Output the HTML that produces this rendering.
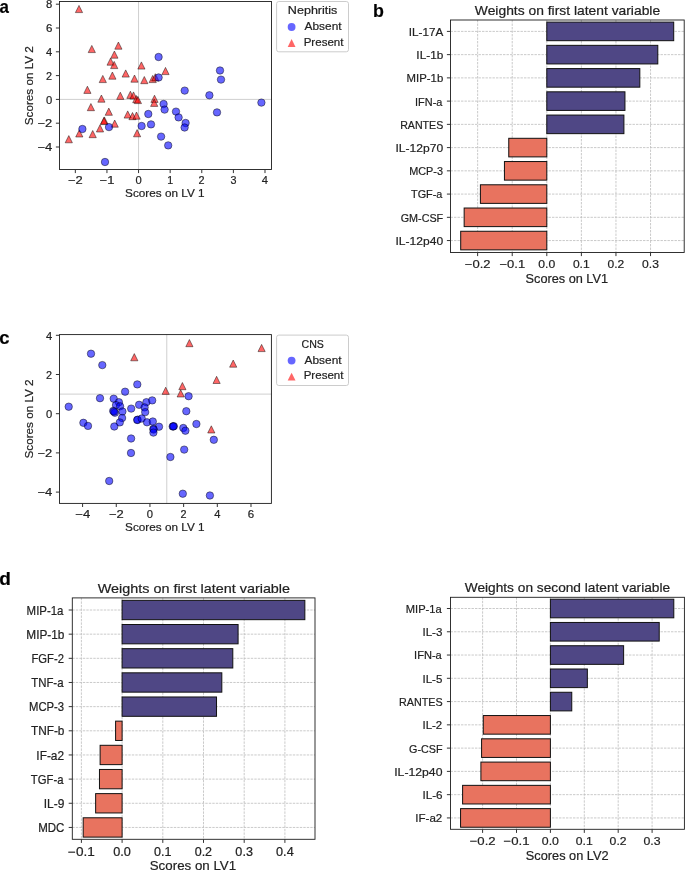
<!DOCTYPE html>
<html><head><meta charset="utf-8"><style>html,body{margin:0;padding:0;background:#fff;}svg{display:block;will-change:transform;}text{font-family:"Liberation Sans",sans-serif;stroke:#222;stroke-width:0.2px;}</style></head><body>
<svg width="685" height="871" viewBox="0 0 685 871" font-family="Liberation Sans, sans-serif">
<rect width="685" height="871" fill="#fff"/>
<text transform="translate(-0.51,12.60) scale(0.9390,1)" font-size="18.00" fill="#000" font-weight="bold">a</text>
<text transform="translate(373.04,17.30) scale(0.9901,1)" font-size="18.00" fill="#000" font-weight="bold">b</text>
<text transform="translate(-0.74,344.00) scale(1.0256,1)" font-size="18.00" fill="#000" font-weight="bold">c</text>
<text transform="translate(-0.76,585.30) scale(1.0561,1)" font-size="18.00" fill="#000" font-weight="bold">d</text>
<line x1="138.55" y1="1.5" x2="138.55" y2="169.5" stroke="#cfcfcf" stroke-width="1"/>
<line x1="59.5" y1="99.40" x2="271.5" y2="99.40" stroke="#cfcfcf" stroke-width="1"/>
<path d="M79.00,5.40L75.40,12.60L82.60,12.60Z" fill="#ff0000" fill-opacity="0.6" stroke="#000" stroke-opacity="0.6" stroke-width="0.75" stroke-linejoin="miter"/>
<path d="M91.80,45.40L88.20,52.60L95.40,52.60Z" fill="#ff0000" fill-opacity="0.6" stroke="#000" stroke-opacity="0.6" stroke-width="0.75" stroke-linejoin="miter"/>
<path d="M118.40,42.00L114.80,49.20L122.00,49.20Z" fill="#ff0000" fill-opacity="0.6" stroke="#000" stroke-opacity="0.6" stroke-width="0.75" stroke-linejoin="miter"/>
<path d="M114.40,51.00L110.80,58.20L118.00,58.20Z" fill="#ff0000" fill-opacity="0.6" stroke="#000" stroke-opacity="0.6" stroke-width="0.75" stroke-linejoin="miter"/>
<path d="M110.60,58.00L107.00,65.20L114.20,65.20Z" fill="#ff0000" fill-opacity="0.6" stroke="#000" stroke-opacity="0.6" stroke-width="0.75" stroke-linejoin="miter"/>
<path d="M114.20,61.40L110.60,68.60L117.80,68.60Z" fill="#ff0000" fill-opacity="0.6" stroke="#000" stroke-opacity="0.6" stroke-width="0.75" stroke-linejoin="miter"/>
<path d="M141.40,61.90L137.80,69.10L145.00,69.10Z" fill="#ff0000" fill-opacity="0.6" stroke="#000" stroke-opacity="0.6" stroke-width="0.75" stroke-linejoin="miter"/>
<path d="M165.50,67.40L161.90,74.60L169.10,74.60Z" fill="#ff0000" fill-opacity="0.6" stroke="#000" stroke-opacity="0.6" stroke-width="0.75" stroke-linejoin="miter"/>
<path d="M125.70,69.90L122.10,77.10L129.30,77.10Z" fill="#ff0000" fill-opacity="0.6" stroke="#000" stroke-opacity="0.6" stroke-width="0.75" stroke-linejoin="miter"/>
<path d="M112.40,72.00L108.80,79.20L116.00,79.20Z" fill="#ff0000" fill-opacity="0.6" stroke="#000" stroke-opacity="0.6" stroke-width="0.75" stroke-linejoin="miter"/>
<path d="M102.80,75.40L99.20,82.60L106.40,82.60Z" fill="#ff0000" fill-opacity="0.6" stroke="#000" stroke-opacity="0.6" stroke-width="0.75" stroke-linejoin="miter"/>
<path d="M134.50,75.00L130.90,82.20L138.10,82.20Z" fill="#ff0000" fill-opacity="0.6" stroke="#000" stroke-opacity="0.6" stroke-width="0.75" stroke-linejoin="miter"/>
<path d="M144.30,76.50L140.70,83.70L147.90,83.70Z" fill="#ff0000" fill-opacity="0.6" stroke="#000" stroke-opacity="0.6" stroke-width="0.75" stroke-linejoin="miter"/>
<path d="M152.70,75.40L149.10,82.60L156.30,82.60Z" fill="#ff0000" fill-opacity="0.6" stroke="#000" stroke-opacity="0.6" stroke-width="0.75" stroke-linejoin="miter"/>
<path d="M155.30,73.70L151.70,80.90L158.90,80.90Z" fill="#ff0000" fill-opacity="0.6" stroke="#000" stroke-opacity="0.6" stroke-width="0.75" stroke-linejoin="miter"/>
<path d="M87.40,86.20L83.80,93.40L91.00,93.40Z" fill="#ff0000" fill-opacity="0.6" stroke="#000" stroke-opacity="0.6" stroke-width="0.75" stroke-linejoin="miter"/>
<path d="M101.40,95.00L97.80,102.20L105.00,102.20Z" fill="#ff0000" fill-opacity="0.6" stroke="#000" stroke-opacity="0.6" stroke-width="0.75" stroke-linejoin="miter"/>
<path d="M120.30,92.20L116.70,99.40L123.90,99.40Z" fill="#ff0000" fill-opacity="0.6" stroke="#000" stroke-opacity="0.6" stroke-width="0.75" stroke-linejoin="miter"/>
<path d="M130.40,91.20L126.80,98.40L134.00,98.40Z" fill="#ff0000" fill-opacity="0.6" stroke="#000" stroke-opacity="0.6" stroke-width="0.75" stroke-linejoin="miter"/>
<path d="M133.50,91.90L129.90,99.10L137.10,99.10Z" fill="#ff0000" fill-opacity="0.6" stroke="#000" stroke-opacity="0.6" stroke-width="0.75" stroke-linejoin="miter"/>
<path d="M136.30,95.50L132.70,102.70L139.90,102.70Z" fill="#ff0000" fill-opacity="0.6" stroke="#000" stroke-opacity="0.6" stroke-width="0.75" stroke-linejoin="miter"/>
<path d="M137.90,96.40L134.30,103.60L141.50,103.60Z" fill="#ff0000" fill-opacity="0.6" stroke="#000" stroke-opacity="0.6" stroke-width="0.75" stroke-linejoin="miter"/>
<path d="M154.50,95.20L150.90,102.40L158.10,102.40Z" fill="#ff0000" fill-opacity="0.6" stroke="#000" stroke-opacity="0.6" stroke-width="0.75" stroke-linejoin="miter"/>
<path d="M154.20,99.20L150.60,106.40L157.80,106.40Z" fill="#ff0000" fill-opacity="0.6" stroke="#000" stroke-opacity="0.6" stroke-width="0.75" stroke-linejoin="miter"/>
<path d="M90.90,103.50L87.30,110.70L94.50,110.70Z" fill="#ff0000" fill-opacity="0.6" stroke="#000" stroke-opacity="0.6" stroke-width="0.75" stroke-linejoin="miter"/>
<path d="M108.80,108.10L105.20,115.30L112.40,115.30Z" fill="#ff0000" fill-opacity="0.6" stroke="#000" stroke-opacity="0.6" stroke-width="0.75" stroke-linejoin="miter"/>
<path d="M127.70,110.90L124.10,118.10L131.30,118.10Z" fill="#ff0000" fill-opacity="0.6" stroke="#000" stroke-opacity="0.6" stroke-width="0.75" stroke-linejoin="miter"/>
<path d="M132.50,112.50L128.90,119.70L136.10,119.70Z" fill="#ff0000" fill-opacity="0.6" stroke="#000" stroke-opacity="0.6" stroke-width="0.75" stroke-linejoin="miter"/>
<path d="M136.50,112.00L132.90,119.20L140.10,119.20Z" fill="#ff0000" fill-opacity="0.6" stroke="#000" stroke-opacity="0.6" stroke-width="0.75" stroke-linejoin="miter"/>
<path d="M104.40,116.90L100.80,124.10L108.00,124.10Z" fill="#ff0000" fill-opacity="0.6" stroke="#000" stroke-opacity="0.6" stroke-width="0.75" stroke-linejoin="miter"/>
<path d="M103.90,117.40L100.30,124.60L107.50,124.60Z" fill="#ff0000" fill-opacity="0.6" stroke="#000" stroke-opacity="0.6" stroke-width="0.75" stroke-linejoin="miter"/>
<path d="M114.70,120.00L111.10,127.20L118.30,127.20Z" fill="#ff0000" fill-opacity="0.6" stroke="#000" stroke-opacity="0.6" stroke-width="0.75" stroke-linejoin="miter"/>
<path d="M100.00,124.80L96.40,132.00L103.60,132.00Z" fill="#ff0000" fill-opacity="0.6" stroke="#000" stroke-opacity="0.6" stroke-width="0.75" stroke-linejoin="miter"/>
<path d="M79.30,129.80L75.70,137.00L82.90,137.00Z" fill="#ff0000" fill-opacity="0.6" stroke="#000" stroke-opacity="0.6" stroke-width="0.75" stroke-linejoin="miter"/>
<path d="M92.70,130.50L89.10,137.70L96.30,137.70Z" fill="#ff0000" fill-opacity="0.6" stroke="#000" stroke-opacity="0.6" stroke-width="0.75" stroke-linejoin="miter"/>
<path d="M68.80,135.60L65.20,142.80L72.40,142.80Z" fill="#ff0000" fill-opacity="0.6" stroke="#000" stroke-opacity="0.6" stroke-width="0.75" stroke-linejoin="miter"/>
<path d="M137.10,129.60L133.50,136.80L140.70,136.80Z" fill="#ff0000" fill-opacity="0.6" stroke="#000" stroke-opacity="0.6" stroke-width="0.75" stroke-linejoin="miter"/>
<circle cx="158.60" cy="57.00" r="3.72" fill="#0000ff" fill-opacity="0.6" stroke="#000" stroke-opacity="0.6" stroke-width="0.75"/>
<circle cx="158.60" cy="77.50" r="3.72" fill="#0000ff" fill-opacity="0.6" stroke="#000" stroke-opacity="0.6" stroke-width="0.75"/>
<circle cx="184.70" cy="90.60" r="3.72" fill="#0000ff" fill-opacity="0.6" stroke="#000" stroke-opacity="0.6" stroke-width="0.75"/>
<circle cx="220.00" cy="70.50" r="3.72" fill="#0000ff" fill-opacity="0.6" stroke="#000" stroke-opacity="0.6" stroke-width="0.75"/>
<circle cx="221.00" cy="79.60" r="3.72" fill="#0000ff" fill-opacity="0.6" stroke="#000" stroke-opacity="0.6" stroke-width="0.75"/>
<circle cx="209.40" cy="95.30" r="3.72" fill="#0000ff" fill-opacity="0.6" stroke="#000" stroke-opacity="0.6" stroke-width="0.75"/>
<circle cx="261.40" cy="102.60" r="3.72" fill="#0000ff" fill-opacity="0.6" stroke="#000" stroke-opacity="0.6" stroke-width="0.75"/>
<circle cx="163.60" cy="104.00" r="3.72" fill="#0000ff" fill-opacity="0.6" stroke="#000" stroke-opacity="0.6" stroke-width="0.75"/>
<circle cx="164.60" cy="109.60" r="3.72" fill="#0000ff" fill-opacity="0.6" stroke="#000" stroke-opacity="0.6" stroke-width="0.75"/>
<circle cx="176.00" cy="111.60" r="3.72" fill="#0000ff" fill-opacity="0.6" stroke="#000" stroke-opacity="0.6" stroke-width="0.75"/>
<circle cx="178.60" cy="117.40" r="3.72" fill="#0000ff" fill-opacity="0.6" stroke="#000" stroke-opacity="0.6" stroke-width="0.75"/>
<circle cx="148.30" cy="114.00" r="3.72" fill="#0000ff" fill-opacity="0.6" stroke="#000" stroke-opacity="0.6" stroke-width="0.75"/>
<circle cx="217.00" cy="112.40" r="3.72" fill="#0000ff" fill-opacity="0.6" stroke="#000" stroke-opacity="0.6" stroke-width="0.75"/>
<circle cx="185.60" cy="123.00" r="3.72" fill="#0000ff" fill-opacity="0.6" stroke="#000" stroke-opacity="0.6" stroke-width="0.75"/>
<circle cx="184.60" cy="127.50" r="3.72" fill="#0000ff" fill-opacity="0.6" stroke="#000" stroke-opacity="0.6" stroke-width="0.75"/>
<circle cx="151.00" cy="124.40" r="3.72" fill="#0000ff" fill-opacity="0.6" stroke="#000" stroke-opacity="0.6" stroke-width="0.75"/>
<circle cx="141.60" cy="126.00" r="3.72" fill="#0000ff" fill-opacity="0.6" stroke="#000" stroke-opacity="0.6" stroke-width="0.75"/>
<circle cx="109.00" cy="127.10" r="3.72" fill="#0000ff" fill-opacity="0.6" stroke="#000" stroke-opacity="0.6" stroke-width="0.75"/>
<circle cx="82.40" cy="129.00" r="3.72" fill="#0000ff" fill-opacity="0.6" stroke="#000" stroke-opacity="0.6" stroke-width="0.75"/>
<circle cx="161.10" cy="136.60" r="3.72" fill="#0000ff" fill-opacity="0.6" stroke="#000" stroke-opacity="0.6" stroke-width="0.75"/>
<circle cx="168.20" cy="145.40" r="3.72" fill="#0000ff" fill-opacity="0.6" stroke="#000" stroke-opacity="0.6" stroke-width="0.75"/>
<circle cx="105.00" cy="162.00" r="3.72" fill="#0000ff" fill-opacity="0.6" stroke="#000" stroke-opacity="0.6" stroke-width="0.75"/>
<rect x="59.50" y="1.50" width="212.00" height="168.00" fill="none" stroke="#1c1c1c" stroke-width="0.9"/>
<line x1="75.33" y1="169.50" x2="75.33" y2="173.10" stroke="#333" stroke-width="1"/>
<text transform="translate(67.98,184.00) scale(1.1630,1)" font-size="11.13" fill="#222222">−2</text>
<line x1="106.94" y1="169.50" x2="106.94" y2="173.10" stroke="#333" stroke-width="1"/>
<text transform="translate(99.59,184.00) scale(1.1671,1)" font-size="11.13" fill="#222222">−1</text>
<line x1="138.55" y1="169.50" x2="138.55" y2="173.10" stroke="#333" stroke-width="1"/>
<text transform="translate(135.42,184.00) scale(1.0072,1)" font-size="11.13" fill="#222222">0</text>
<line x1="170.16" y1="169.50" x2="170.16" y2="173.10" stroke="#333" stroke-width="1"/>
<text transform="translate(167.15,184.00) scale(0.9579,1)" font-size="11.13" fill="#222222">1</text>
<line x1="201.77" y1="169.50" x2="201.77" y2="173.10" stroke="#333" stroke-width="1"/>
<text transform="translate(198.62,184.00) scale(0.9733,1)" font-size="11.13" fill="#222222">2</text>
<line x1="233.38" y1="169.50" x2="233.38" y2="173.10" stroke="#333" stroke-width="1"/>
<text transform="translate(230.40,184.00) scale(0.9674,1)" font-size="11.13" fill="#222222">3</text>
<line x1="264.99" y1="169.50" x2="264.99" y2="173.10" stroke="#333" stroke-width="1"/>
<text transform="translate(261.87,184.00) scale(1.0042,1)" font-size="11.13" fill="#222222">4</text>
<line x1="55.90" y1="147.00" x2="59.50" y2="147.00" stroke="#333" stroke-width="1"/>
<text transform="translate(37.43,151.24) scale(1.1765,1)" font-size="11.13" fill="#222222">−4</text>
<line x1="55.90" y1="123.20" x2="59.50" y2="123.20" stroke="#333" stroke-width="1"/>
<text transform="translate(37.44,127.44) scale(1.1630,1)" font-size="11.13" fill="#222222">−2</text>
<line x1="55.90" y1="99.40" x2="59.50" y2="99.40" stroke="#333" stroke-width="1"/>
<text transform="translate(46.10,103.64) scale(1.0072,1)" font-size="11.13" fill="#222222">0</text>
<line x1="55.90" y1="75.60" x2="59.50" y2="75.60" stroke="#333" stroke-width="1"/>
<text transform="translate(46.08,79.84) scale(0.9733,1)" font-size="11.13" fill="#222222">2</text>
<line x1="55.90" y1="51.80" x2="59.50" y2="51.80" stroke="#333" stroke-width="1"/>
<text transform="translate(46.11,56.04) scale(1.0042,1)" font-size="11.13" fill="#222222">4</text>
<line x1="55.90" y1="28.00" x2="59.50" y2="28.00" stroke="#333" stroke-width="1"/>
<text transform="translate(46.02,32.24) scale(1.0347,1)" font-size="11.13" fill="#222222">6</text>
<line x1="55.90" y1="4.20" x2="59.50" y2="4.20" stroke="#333" stroke-width="1"/>
<text transform="translate(46.09,8.44) scale(1.0132,1)" font-size="11.13" fill="#222222">8</text>
<text transform="translate(125.10,196.90) scale(1.0184,1)" font-size="11.55" fill="#222222">Scores on LV 1</text>
<text transform="translate(32.80,0) rotate(-90) translate(-125.22,0) scale(1.0177,1)" font-size="11.50" fill="#222222">Scores on LV 2</text>
<rect x="276.6" y="1.5" width="71.89999999999998" height="50.3" rx="2.2" fill="#fff" fill-opacity="0.8" stroke="#cccccc" stroke-width="1"/>
<text transform="translate(287.86,14.20) scale(1.1121,1)" font-size="11.30" fill="#222222">Nephritis</text>
<circle cx="291.6" cy="27" r="3.9" fill="#0000ff" fill-opacity="0.6"/>
<path d="M291.6,39.1L287.70000000000005,46.9L295.5,46.9Z" fill="#ff0000" fill-opacity="0.6"/>
<text transform="translate(304.57,29.90) scale(1.0591,1)" font-size="11.23" fill="#222222">Absent</text>
<text transform="translate(303.64,45.50) scale(1.0304,1)" font-size="11.23" fill="#222222">Present</text>
<line x1="166.79" y1="334.6" x2="166.79" y2="503.4" stroke="#cfcfcf" stroke-width="1"/>
<line x1="59.5" y1="394.10" x2="271.4" y2="394.10" stroke="#cfcfcf" stroke-width="1"/>
<path d="M134.30,353.60L130.70,360.80L137.90,360.80Z" fill="#ff0000" fill-opacity="0.6" stroke="#000" stroke-opacity="0.6" stroke-width="0.75" stroke-linejoin="miter"/>
<path d="M189.40,339.50L185.80,346.70L193.00,346.70Z" fill="#ff0000" fill-opacity="0.6" stroke="#000" stroke-opacity="0.6" stroke-width="0.75" stroke-linejoin="miter"/>
<path d="M261.60,344.40L258.00,351.60L265.20,351.60Z" fill="#ff0000" fill-opacity="0.6" stroke="#000" stroke-opacity="0.6" stroke-width="0.75" stroke-linejoin="miter"/>
<path d="M233.20,360.00L229.60,367.20L236.80,367.20Z" fill="#ff0000" fill-opacity="0.6" stroke="#000" stroke-opacity="0.6" stroke-width="0.75" stroke-linejoin="miter"/>
<path d="M216.60,376.30L213.00,383.50L220.20,383.50Z" fill="#ff0000" fill-opacity="0.6" stroke="#000" stroke-opacity="0.6" stroke-width="0.75" stroke-linejoin="miter"/>
<path d="M182.40,382.50L178.80,389.70L186.00,389.70Z" fill="#ff0000" fill-opacity="0.6" stroke="#000" stroke-opacity="0.6" stroke-width="0.75" stroke-linejoin="miter"/>
<path d="M165.70,387.20L162.10,394.40L169.30,394.40Z" fill="#ff0000" fill-opacity="0.6" stroke="#000" stroke-opacity="0.6" stroke-width="0.75" stroke-linejoin="miter"/>
<path d="M180.70,389.80L177.10,397.00L184.30,397.00Z" fill="#ff0000" fill-opacity="0.6" stroke="#000" stroke-opacity="0.6" stroke-width="0.75" stroke-linejoin="miter"/>
<path d="M211.30,425.80L207.70,433.00L214.90,433.00Z" fill="#ff0000" fill-opacity="0.6" stroke="#000" stroke-opacity="0.6" stroke-width="0.75" stroke-linejoin="miter"/>
<circle cx="91.00" cy="353.70" r="3.72" fill="#0000ff" fill-opacity="0.6" stroke="#000" stroke-opacity="0.6" stroke-width="0.75"/>
<circle cx="102.30" cy="365.10" r="3.72" fill="#0000ff" fill-opacity="0.6" stroke="#000" stroke-opacity="0.6" stroke-width="0.75"/>
<circle cx="68.70" cy="406.70" r="3.72" fill="#0000ff" fill-opacity="0.6" stroke="#000" stroke-opacity="0.6" stroke-width="0.75"/>
<circle cx="100.00" cy="398.20" r="3.72" fill="#0000ff" fill-opacity="0.6" stroke="#000" stroke-opacity="0.6" stroke-width="0.75"/>
<circle cx="125.10" cy="391.70" r="3.72" fill="#0000ff" fill-opacity="0.6" stroke="#000" stroke-opacity="0.6" stroke-width="0.75"/>
<circle cx="137.30" cy="384.40" r="3.72" fill="#0000ff" fill-opacity="0.6" stroke="#000" stroke-opacity="0.6" stroke-width="0.75"/>
<circle cx="113.70" cy="398.70" r="3.72" fill="#0000ff" fill-opacity="0.6" stroke="#000" stroke-opacity="0.6" stroke-width="0.75"/>
<circle cx="118.90" cy="402.20" r="3.72" fill="#0000ff" fill-opacity="0.6" stroke="#000" stroke-opacity="0.6" stroke-width="0.75"/>
<circle cx="116.00" cy="405.10" r="3.72" fill="#0000ff" fill-opacity="0.6" stroke="#000" stroke-opacity="0.6" stroke-width="0.75"/>
<circle cx="120.10" cy="406.30" r="3.72" fill="#0000ff" fill-opacity="0.6" stroke="#000" stroke-opacity="0.6" stroke-width="0.75"/>
<circle cx="113.20" cy="410.90" r="3.72" fill="#0000ff" fill-opacity="0.6" stroke="#000" stroke-opacity="0.6" stroke-width="0.75"/>
<circle cx="114.90" cy="412.70" r="3.72" fill="#0000ff" fill-opacity="0.6" stroke="#000" stroke-opacity="0.6" stroke-width="0.75"/>
<circle cx="114.00" cy="411.60" r="3.72" fill="#0000ff" fill-opacity="0.6" stroke="#000" stroke-opacity="0.6" stroke-width="0.75"/>
<circle cx="122.40" cy="411.50" r="3.72" fill="#0000ff" fill-opacity="0.6" stroke="#000" stroke-opacity="0.6" stroke-width="0.75"/>
<circle cx="131.20" cy="408.60" r="3.72" fill="#0000ff" fill-opacity="0.6" stroke="#000" stroke-opacity="0.6" stroke-width="0.75"/>
<circle cx="122.10" cy="418.00" r="3.72" fill="#0000ff" fill-opacity="0.6" stroke="#000" stroke-opacity="0.6" stroke-width="0.75"/>
<circle cx="119.80" cy="422.40" r="3.72" fill="#0000ff" fill-opacity="0.6" stroke="#000" stroke-opacity="0.6" stroke-width="0.75"/>
<circle cx="114.30" cy="426.50" r="3.72" fill="#0000ff" fill-opacity="0.6" stroke="#000" stroke-opacity="0.6" stroke-width="0.75"/>
<circle cx="139.10" cy="404.80" r="3.72" fill="#0000ff" fill-opacity="0.6" stroke="#000" stroke-opacity="0.6" stroke-width="0.75"/>
<circle cx="146.40" cy="402.20" r="3.72" fill="#0000ff" fill-opacity="0.6" stroke="#000" stroke-opacity="0.6" stroke-width="0.75"/>
<circle cx="152.20" cy="400.40" r="3.72" fill="#0000ff" fill-opacity="0.6" stroke="#000" stroke-opacity="0.6" stroke-width="0.75"/>
<circle cx="144.60" cy="407.40" r="3.72" fill="#0000ff" fill-opacity="0.6" stroke="#000" stroke-opacity="0.6" stroke-width="0.75"/>
<circle cx="145.20" cy="412.10" r="3.72" fill="#0000ff" fill-opacity="0.6" stroke="#000" stroke-opacity="0.6" stroke-width="0.75"/>
<circle cx="137.60" cy="419.70" r="3.72" fill="#0000ff" fill-opacity="0.6" stroke="#000" stroke-opacity="0.6" stroke-width="0.75"/>
<circle cx="137.20" cy="420.00" r="3.72" fill="#0000ff" fill-opacity="0.6" stroke="#000" stroke-opacity="0.6" stroke-width="0.75"/>
<circle cx="141.70" cy="418.50" r="3.72" fill="#0000ff" fill-opacity="0.6" stroke="#000" stroke-opacity="0.6" stroke-width="0.75"/>
<circle cx="147.00" cy="422.30" r="3.72" fill="#0000ff" fill-opacity="0.6" stroke="#000" stroke-opacity="0.6" stroke-width="0.75"/>
<circle cx="152.80" cy="421.50" r="3.72" fill="#0000ff" fill-opacity="0.6" stroke="#000" stroke-opacity="0.6" stroke-width="0.75"/>
<circle cx="159.00" cy="426.70" r="3.72" fill="#0000ff" fill-opacity="0.6" stroke="#000" stroke-opacity="0.6" stroke-width="0.75"/>
<circle cx="153.40" cy="428.80" r="3.72" fill="#0000ff" fill-opacity="0.6" stroke="#000" stroke-opacity="0.6" stroke-width="0.75"/>
<circle cx="153.60" cy="429.60" r="3.72" fill="#0000ff" fill-opacity="0.6" stroke="#000" stroke-opacity="0.6" stroke-width="0.75"/>
<circle cx="153.40" cy="432.60" r="3.72" fill="#0000ff" fill-opacity="0.6" stroke="#000" stroke-opacity="0.6" stroke-width="0.75"/>
<circle cx="172.70" cy="426.50" r="3.72" fill="#0000ff" fill-opacity="0.6" stroke="#000" stroke-opacity="0.6" stroke-width="0.75"/>
<circle cx="173.80" cy="426.20" r="3.72" fill="#0000ff" fill-opacity="0.6" stroke="#000" stroke-opacity="0.6" stroke-width="0.75"/>
<circle cx="173.30" cy="426.40" r="3.72" fill="#0000ff" fill-opacity="0.6" stroke="#000" stroke-opacity="0.6" stroke-width="0.75"/>
<circle cx="131.10" cy="438.50" r="3.72" fill="#0000ff" fill-opacity="0.6" stroke="#000" stroke-opacity="0.6" stroke-width="0.75"/>
<circle cx="131.00" cy="453.00" r="3.72" fill="#0000ff" fill-opacity="0.6" stroke="#000" stroke-opacity="0.6" stroke-width="0.75"/>
<circle cx="109.20" cy="481.00" r="3.72" fill="#0000ff" fill-opacity="0.6" stroke="#000" stroke-opacity="0.6" stroke-width="0.75"/>
<circle cx="170.40" cy="457.00" r="3.72" fill="#0000ff" fill-opacity="0.6" stroke="#000" stroke-opacity="0.6" stroke-width="0.75"/>
<circle cx="83.40" cy="422.80" r="3.72" fill="#0000ff" fill-opacity="0.6" stroke="#000" stroke-opacity="0.6" stroke-width="0.75"/>
<circle cx="88.00" cy="425.90" r="3.72" fill="#0000ff" fill-opacity="0.6" stroke="#000" stroke-opacity="0.6" stroke-width="0.75"/>
<circle cx="186.30" cy="411.20" r="3.72" fill="#0000ff" fill-opacity="0.6" stroke="#000" stroke-opacity="0.6" stroke-width="0.75"/>
<circle cx="188.60" cy="396.20" r="3.72" fill="#0000ff" fill-opacity="0.6" stroke="#000" stroke-opacity="0.6" stroke-width="0.75"/>
<circle cx="196.40" cy="424.00" r="3.72" fill="#0000ff" fill-opacity="0.6" stroke="#000" stroke-opacity="0.6" stroke-width="0.75"/>
<circle cx="183.30" cy="428.00" r="3.72" fill="#0000ff" fill-opacity="0.6" stroke="#000" stroke-opacity="0.6" stroke-width="0.75"/>
<circle cx="185.40" cy="430.70" r="3.72" fill="#0000ff" fill-opacity="0.6" stroke="#000" stroke-opacity="0.6" stroke-width="0.75"/>
<circle cx="213.80" cy="439.80" r="3.72" fill="#0000ff" fill-opacity="0.6" stroke="#000" stroke-opacity="0.6" stroke-width="0.75"/>
<circle cx="184.20" cy="449.60" r="3.72" fill="#0000ff" fill-opacity="0.6" stroke="#000" stroke-opacity="0.6" stroke-width="0.75"/>
<circle cx="182.80" cy="493.70" r="3.72" fill="#0000ff" fill-opacity="0.6" stroke="#000" stroke-opacity="0.6" stroke-width="0.75"/>
<circle cx="209.90" cy="495.50" r="3.72" fill="#0000ff" fill-opacity="0.6" stroke="#000" stroke-opacity="0.6" stroke-width="0.75"/>
<rect x="59.50" y="334.60" width="211.90" height="168.80" fill="none" stroke="#1c1c1c" stroke-width="0.9"/>
<line x1="82.59" y1="503.40" x2="82.59" y2="507.00" stroke="#333" stroke-width="1"/>
<text transform="translate(75.24,517.90) scale(1.1765,1)" font-size="11.13" fill="#222222">−4</text>
<line x1="116.27" y1="503.40" x2="116.27" y2="507.00" stroke="#333" stroke-width="1"/>
<text transform="translate(108.92,517.90) scale(1.1630,1)" font-size="11.13" fill="#222222">−2</text>
<line x1="149.95" y1="503.40" x2="149.95" y2="507.00" stroke="#333" stroke-width="1"/>
<text transform="translate(146.82,517.90) scale(1.0072,1)" font-size="11.13" fill="#222222">0</text>
<line x1="183.63" y1="503.40" x2="183.63" y2="507.00" stroke="#333" stroke-width="1"/>
<text transform="translate(180.48,517.90) scale(0.9733,1)" font-size="11.13" fill="#222222">2</text>
<line x1="217.31" y1="503.40" x2="217.31" y2="507.00" stroke="#333" stroke-width="1"/>
<text transform="translate(214.19,517.90) scale(1.0042,1)" font-size="11.13" fill="#222222">4</text>
<line x1="250.99" y1="503.40" x2="250.99" y2="507.00" stroke="#333" stroke-width="1"/>
<text transform="translate(247.78,517.90) scale(1.0347,1)" font-size="11.13" fill="#222222">6</text>
<line x1="55.90" y1="492.10" x2="59.50" y2="492.10" stroke="#333" stroke-width="1"/>
<text transform="translate(37.43,496.34) scale(1.1765,1)" font-size="11.13" fill="#222222">−4</text>
<line x1="55.90" y1="452.90" x2="59.50" y2="452.90" stroke="#333" stroke-width="1"/>
<text transform="translate(37.44,457.14) scale(1.1630,1)" font-size="11.13" fill="#222222">−2</text>
<line x1="55.90" y1="413.70" x2="59.50" y2="413.70" stroke="#333" stroke-width="1"/>
<text transform="translate(46.10,417.94) scale(1.0072,1)" font-size="11.13" fill="#222222">0</text>
<line x1="55.90" y1="374.50" x2="59.50" y2="374.50" stroke="#333" stroke-width="1"/>
<text transform="translate(46.08,378.74) scale(0.9733,1)" font-size="11.13" fill="#222222">2</text>
<line x1="55.90" y1="335.30" x2="59.50" y2="335.30" stroke="#333" stroke-width="1"/>
<text transform="translate(46.11,339.54) scale(1.0042,1)" font-size="11.13" fill="#222222">4</text>
<text transform="translate(125.10,530.80) scale(1.0184,1)" font-size="11.55" fill="#222222">Scores on LV 1</text>
<text transform="translate(32.80,0) rotate(-90) translate(-458.52,0) scale(1.0177,1)" font-size="11.50" fill="#222222">Scores on LV 2</text>
<rect x="276.6" y="335.1" width="71.89999999999998" height="50.39999999999998" rx="2.2" fill="#fff" fill-opacity="0.8" stroke="#cccccc" stroke-width="1"/>
<text transform="translate(301.57,347.80) scale(0.9387,1)" font-size="11.30" fill="#222222">CNS</text>
<circle cx="291.6" cy="360.6" r="3.9" fill="#0000ff" fill-opacity="0.6"/>
<path d="M291.6,372.70000000000005L287.70000000000005,380.5L295.5,380.5Z" fill="#ff0000" fill-opacity="0.6"/>
<text transform="translate(304.57,363.50) scale(1.0591,1)" font-size="11.23" fill="#222222">Absent</text>
<text transform="translate(303.64,379.10) scale(1.0304,1)" font-size="11.23" fill="#222222">Present</text>
<line x1="477.64" y1="20.0" x2="477.64" y2="252.5" stroke="#bdbdbd" stroke-width="0.8" stroke-dasharray="2.4,1.1"/>
<line x1="512.22" y1="20.0" x2="512.22" y2="252.5" stroke="#bdbdbd" stroke-width="0.8" stroke-dasharray="2.4,1.1"/>
<line x1="546.80" y1="20.0" x2="546.80" y2="252.5" stroke="#bdbdbd" stroke-width="0.8" stroke-dasharray="2.4,1.1"/>
<line x1="581.38" y1="20.0" x2="581.38" y2="252.5" stroke="#bdbdbd" stroke-width="0.8" stroke-dasharray="2.4,1.1"/>
<line x1="615.96" y1="20.0" x2="615.96" y2="252.5" stroke="#bdbdbd" stroke-width="0.8" stroke-dasharray="2.4,1.1"/>
<line x1="650.54" y1="20.0" x2="650.54" y2="252.5" stroke="#bdbdbd" stroke-width="0.8" stroke-dasharray="2.4,1.1"/>
<line x1="450.5" y1="31.40" x2="684.2" y2="31.40" stroke="#bdbdbd" stroke-width="0.8" stroke-dasharray="2.4,1.1"/>
<line x1="450.5" y1="54.64" x2="684.2" y2="54.64" stroke="#bdbdbd" stroke-width="0.8" stroke-dasharray="2.4,1.1"/>
<line x1="450.5" y1="77.88" x2="684.2" y2="77.88" stroke="#bdbdbd" stroke-width="0.8" stroke-dasharray="2.4,1.1"/>
<line x1="450.5" y1="101.12" x2="684.2" y2="101.12" stroke="#bdbdbd" stroke-width="0.8" stroke-dasharray="2.4,1.1"/>
<line x1="450.5" y1="124.36" x2="684.2" y2="124.36" stroke="#bdbdbd" stroke-width="0.8" stroke-dasharray="2.4,1.1"/>
<line x1="450.5" y1="147.60" x2="684.2" y2="147.60" stroke="#bdbdbd" stroke-width="0.8" stroke-dasharray="2.4,1.1"/>
<line x1="450.5" y1="170.84" x2="684.2" y2="170.84" stroke="#bdbdbd" stroke-width="0.8" stroke-dasharray="2.4,1.1"/>
<line x1="450.5" y1="194.08" x2="684.2" y2="194.08" stroke="#bdbdbd" stroke-width="0.8" stroke-dasharray="2.4,1.1"/>
<line x1="450.5" y1="217.32" x2="684.2" y2="217.32" stroke="#bdbdbd" stroke-width="0.8" stroke-dasharray="2.4,1.1"/>
<line x1="450.5" y1="240.56" x2="684.2" y2="240.56" stroke="#bdbdbd" stroke-width="0.8" stroke-dasharray="2.4,1.1"/>
<rect x="546.80" y="22.10" width="126.91" height="18.59" fill="#4f4785" stroke="#111" stroke-width="1"/>
<rect x="546.80" y="45.34" width="111.00" height="18.59" fill="#4f4785" stroke="#111" stroke-width="1"/>
<rect x="546.80" y="68.58" width="93.02" height="18.59" fill="#4f4785" stroke="#111" stroke-width="1"/>
<rect x="546.80" y="91.82" width="78.15" height="18.59" fill="#4f4785" stroke="#111" stroke-width="1"/>
<rect x="546.80" y="115.06" width="77.11" height="18.59" fill="#4f4785" stroke="#111" stroke-width="1"/>
<rect x="508.76" y="138.30" width="38.04" height="18.59" fill="#e8735f" stroke="#111" stroke-width="1"/>
<rect x="504.44" y="161.54" width="42.36" height="18.59" fill="#e8735f" stroke="#111" stroke-width="1"/>
<rect x="480.41" y="184.78" width="66.39" height="18.59" fill="#e8735f" stroke="#111" stroke-width="1"/>
<rect x="464.15" y="208.02" width="82.65" height="18.59" fill="#e8735f" stroke="#111" stroke-width="1"/>
<rect x="460.70" y="231.26" width="86.10" height="18.59" fill="#e8735f" stroke="#111" stroke-width="1"/>
<rect x="450.50" y="20.00" width="233.70" height="232.50" fill="none" stroke="#1c1c1c" stroke-width="0.9"/>
<line x1="477.64" y1="252.50" x2="477.64" y2="256.10" stroke="#333" stroke-width="1"/>
<text transform="translate(464.84,267.80) scale(1.1317,1)" font-size="11.50" fill="#222222">−0.2</text>
<line x1="512.22" y1="252.50" x2="512.22" y2="256.10" stroke="#333" stroke-width="1"/>
<text transform="translate(499.42,267.80) scale(1.1340,1)" font-size="11.50" fill="#222222">−0.1</text>
<line x1="546.80" y1="252.50" x2="546.80" y2="256.10" stroke="#333" stroke-width="1"/>
<text transform="translate(538.32,267.80) scale(1.0594,1)" font-size="11.50" fill="#222222">0.0</text>
<line x1="581.38" y1="252.50" x2="581.38" y2="256.10" stroke="#333" stroke-width="1"/>
<text transform="translate(572.90,267.80) scale(1.0493,1)" font-size="11.50" fill="#222222">0.1</text>
<line x1="615.96" y1="252.50" x2="615.96" y2="256.10" stroke="#333" stroke-width="1"/>
<text transform="translate(607.48,267.80) scale(1.0458,1)" font-size="11.50" fill="#222222">0.2</text>
<line x1="650.54" y1="252.50" x2="650.54" y2="256.10" stroke="#333" stroke-width="1"/>
<text transform="translate(642.06,267.80) scale(1.0544,1)" font-size="11.50" fill="#222222">0.3</text>
<line x1="446.90" y1="31.40" x2="450.50" y2="31.40" stroke="#333" stroke-width="1"/>
<text transform="translate(408.87,35.78) scale(1.0167,1)" font-size="11.50" fill="#222222">IL-17A</text>
<line x1="446.90" y1="54.64" x2="450.50" y2="54.64" stroke="#333" stroke-width="1"/>
<text transform="translate(416.37,59.02) scale(1.0279,1)" font-size="11.50" fill="#222222">IL-1b</text>
<line x1="446.90" y1="77.88" x2="450.50" y2="77.88" stroke="#333" stroke-width="1"/>
<text transform="translate(406.62,82.26) scale(0.9885,1)" font-size="11.50" fill="#222222">MIP-1b</text>
<line x1="446.90" y1="101.12" x2="450.50" y2="101.12" stroke="#333" stroke-width="1"/>
<text transform="translate(415.08,105.50) scale(0.9504,1)" font-size="11.50" fill="#222222">IFN-a</text>
<line x1="446.90" y1="124.36" x2="450.50" y2="124.36" stroke="#333" stroke-width="1"/>
<text transform="translate(400.19,128.74) scale(0.9239,1)" font-size="11.50" fill="#222222">RANTES</text>
<line x1="446.90" y1="147.60" x2="450.50" y2="147.60" stroke="#333" stroke-width="1"/>
<text transform="translate(395.44,151.98) scale(1.0509,1)" font-size="11.50" fill="#222222">IL-12p70</text>
<line x1="446.90" y1="170.84" x2="450.50" y2="170.84" stroke="#333" stroke-width="1"/>
<text transform="translate(409.20,175.22) scale(0.9452,1)" font-size="11.50" fill="#222222">MCP-3</text>
<line x1="446.90" y1="194.08" x2="450.50" y2="194.08" stroke="#333" stroke-width="1"/>
<text transform="translate(410.99,198.46) scale(0.9457,1)" font-size="11.50" fill="#222222">TGF-a</text>
<line x1="446.90" y1="217.32" x2="450.50" y2="217.32" stroke="#333" stroke-width="1"/>
<text transform="translate(400.68,221.70) scale(0.9382,1)" font-size="11.50" fill="#222222">GM-CSF</text>
<line x1="446.90" y1="240.56" x2="450.50" y2="240.56" stroke="#333" stroke-width="1"/>
<text transform="translate(395.44,244.94) scale(1.0509,1)" font-size="11.50" fill="#222222">IL-12p40</text>
<text transform="translate(474.83,14.90) scale(1.0922,1)" font-size="12.70" fill="#222222">Weights on first latent variable</text>
<text transform="translate(525.55,282.90) scale(1.0153,1)" font-size="12.55" fill="#222222">Scores on LV1</text>
<line x1="81.40" y1="597.9" x2="81.40" y2="839.3" stroke="#bdbdbd" stroke-width="0.8" stroke-dasharray="2.4,1.1"/>
<line x1="122.10" y1="597.9" x2="122.10" y2="839.3" stroke="#bdbdbd" stroke-width="0.8" stroke-dasharray="2.4,1.1"/>
<line x1="162.80" y1="597.9" x2="162.80" y2="839.3" stroke="#bdbdbd" stroke-width="0.8" stroke-dasharray="2.4,1.1"/>
<line x1="203.50" y1="597.9" x2="203.50" y2="839.3" stroke="#bdbdbd" stroke-width="0.8" stroke-dasharray="2.4,1.1"/>
<line x1="244.20" y1="597.9" x2="244.20" y2="839.3" stroke="#bdbdbd" stroke-width="0.8" stroke-dasharray="2.4,1.1"/>
<line x1="284.90" y1="597.9" x2="284.90" y2="839.3" stroke="#bdbdbd" stroke-width="0.8" stroke-dasharray="2.4,1.1"/>
<line x1="72.3" y1="610.00" x2="315.0" y2="610.00" stroke="#bdbdbd" stroke-width="0.8" stroke-dasharray="2.4,1.1"/>
<line x1="72.3" y1="634.16" x2="315.0" y2="634.16" stroke="#bdbdbd" stroke-width="0.8" stroke-dasharray="2.4,1.1"/>
<line x1="72.3" y1="658.32" x2="315.0" y2="658.32" stroke="#bdbdbd" stroke-width="0.8" stroke-dasharray="2.4,1.1"/>
<line x1="72.3" y1="682.48" x2="315.0" y2="682.48" stroke="#bdbdbd" stroke-width="0.8" stroke-dasharray="2.4,1.1"/>
<line x1="72.3" y1="706.64" x2="315.0" y2="706.64" stroke="#bdbdbd" stroke-width="0.8" stroke-dasharray="2.4,1.1"/>
<line x1="72.3" y1="730.80" x2="315.0" y2="730.80" stroke="#bdbdbd" stroke-width="0.8" stroke-dasharray="2.4,1.1"/>
<line x1="72.3" y1="754.96" x2="315.0" y2="754.96" stroke="#bdbdbd" stroke-width="0.8" stroke-dasharray="2.4,1.1"/>
<line x1="72.3" y1="779.12" x2="315.0" y2="779.12" stroke="#bdbdbd" stroke-width="0.8" stroke-dasharray="2.4,1.1"/>
<line x1="72.3" y1="803.28" x2="315.0" y2="803.28" stroke="#bdbdbd" stroke-width="0.8" stroke-dasharray="2.4,1.1"/>
<line x1="72.3" y1="827.44" x2="315.0" y2="827.44" stroke="#bdbdbd" stroke-width="0.8" stroke-dasharray="2.4,1.1"/>
<rect x="122.10" y="600.34" width="182.74" height="19.33" fill="#4f4785" stroke="#111" stroke-width="1"/>
<rect x="122.10" y="624.50" width="115.99" height="19.33" fill="#4f4785" stroke="#111" stroke-width="1"/>
<rect x="122.10" y="648.66" width="110.70" height="19.33" fill="#4f4785" stroke="#111" stroke-width="1"/>
<rect x="122.10" y="672.82" width="99.72" height="19.33" fill="#4f4785" stroke="#111" stroke-width="1"/>
<rect x="122.10" y="696.98" width="94.42" height="19.33" fill="#4f4785" stroke="#111" stroke-width="1"/>
<rect x="115.59" y="721.14" width="6.51" height="19.33" fill="#e8735f" stroke="#111" stroke-width="1"/>
<rect x="100.12" y="745.30" width="21.98" height="19.33" fill="#e8735f" stroke="#111" stroke-width="1"/>
<rect x="99.47" y="769.46" width="22.63" height="19.33" fill="#e8735f" stroke="#111" stroke-width="1"/>
<rect x="95.64" y="793.62" width="26.45" height="19.33" fill="#e8735f" stroke="#111" stroke-width="1"/>
<rect x="83.19" y="817.78" width="38.91" height="19.33" fill="#e8735f" stroke="#111" stroke-width="1"/>
<rect x="72.30" y="597.90" width="242.70" height="241.40" fill="none" stroke="#1c1c1c" stroke-width="0.9"/>
<line x1="81.40" y1="839.30" x2="81.40" y2="842.90" stroke="#333" stroke-width="1"/>
<text transform="translate(68.08,855.50) scale(1.1340,1)" font-size="11.97" fill="#222222">−0.1</text>
<line x1="122.10" y1="839.30" x2="122.10" y2="842.90" stroke="#333" stroke-width="1"/>
<text transform="translate(113.27,855.50) scale(1.0594,1)" font-size="11.97" fill="#222222">0.0</text>
<line x1="162.80" y1="839.30" x2="162.80" y2="842.90" stroke="#333" stroke-width="1"/>
<text transform="translate(153.97,855.50) scale(1.0493,1)" font-size="11.97" fill="#222222">0.1</text>
<line x1="203.50" y1="839.30" x2="203.50" y2="842.90" stroke="#333" stroke-width="1"/>
<text transform="translate(194.68,855.50) scale(1.0458,1)" font-size="11.97" fill="#222222">0.2</text>
<line x1="244.20" y1="839.30" x2="244.20" y2="842.90" stroke="#333" stroke-width="1"/>
<text transform="translate(235.37,855.50) scale(1.0544,1)" font-size="11.97" fill="#222222">0.3</text>
<line x1="284.90" y1="839.30" x2="284.90" y2="842.90" stroke="#333" stroke-width="1"/>
<text transform="translate(276.07,855.50) scale(1.0586,1)" font-size="11.97" fill="#222222">0.4</text>
<line x1="68.70" y1="610.00" x2="72.30" y2="610.00" stroke="#333" stroke-width="1"/>
<text transform="translate(26.59,614.56) scale(0.9577,1)" font-size="11.97" fill="#222222">MIP-1a</text>
<line x1="68.70" y1="634.16" x2="72.30" y2="634.16" stroke="#333" stroke-width="1"/>
<text transform="translate(26.31,638.72) scale(0.9885,1)" font-size="11.97" fill="#222222">MIP-1b</text>
<line x1="68.70" y1="658.32" x2="72.30" y2="658.32" stroke="#333" stroke-width="1"/>
<text transform="translate(31.47,662.88) scale(0.9420,1)" font-size="11.97" fill="#222222">FGF-2</text>
<line x1="68.70" y1="682.48" x2="72.30" y2="682.48" stroke="#333" stroke-width="1"/>
<text transform="translate(31.17,687.04) scale(0.9549,1)" font-size="11.97" fill="#222222">TNF-a</text>
<line x1="68.70" y1="706.64" x2="72.30" y2="706.64" stroke="#333" stroke-width="1"/>
<text transform="translate(28.99,711.20) scale(0.9452,1)" font-size="11.97" fill="#222222">MCP-3</text>
<line x1="68.70" y1="730.80" x2="72.30" y2="730.80" stroke="#333" stroke-width="1"/>
<text transform="translate(30.91,735.36) scale(0.9893,1)" font-size="11.97" fill="#222222">TNF-b</text>
<line x1="68.70" y1="754.96" x2="72.30" y2="754.96" stroke="#333" stroke-width="1"/>
<text transform="translate(36.34,759.52) scale(0.9937,1)" font-size="11.97" fill="#222222">IF-a2</text>
<line x1="68.70" y1="779.12" x2="72.30" y2="779.12" stroke="#333" stroke-width="1"/>
<text transform="translate(30.86,783.68) scale(0.9457,1)" font-size="11.97" fill="#222222">TGF-a</text>
<line x1="68.70" y1="803.28" x2="72.30" y2="803.28" stroke="#333" stroke-width="1"/>
<text transform="translate(43.73,807.84) scale(0.9989,1)" font-size="11.97" fill="#222222">IL-9</text>
<line x1="68.70" y1="827.44" x2="72.30" y2="827.44" stroke="#333" stroke-width="1"/>
<text transform="translate(38.19,832.00) scale(0.9623,1)" font-size="11.97" fill="#222222">MDC</text>
<text transform="translate(97.73,592.70) scale(1.0900,1)" font-size="13.20" fill="#222222">Weights on first latent variable</text>
<text transform="translate(149.74,870.00) scale(1.0153,1)" font-size="13.12" fill="#222222">Scores on LV1</text>
<line x1="482.60" y1="597.3" x2="482.60" y2="829.3" stroke="#bdbdbd" stroke-width="0.8" stroke-dasharray="2.4,1.1"/>
<line x1="516.50" y1="597.3" x2="516.50" y2="829.3" stroke="#bdbdbd" stroke-width="0.8" stroke-dasharray="2.4,1.1"/>
<line x1="550.40" y1="597.3" x2="550.40" y2="829.3" stroke="#bdbdbd" stroke-width="0.8" stroke-dasharray="2.4,1.1"/>
<line x1="584.30" y1="597.3" x2="584.30" y2="829.3" stroke="#bdbdbd" stroke-width="0.8" stroke-dasharray="2.4,1.1"/>
<line x1="618.20" y1="597.3" x2="618.20" y2="829.3" stroke="#bdbdbd" stroke-width="0.8" stroke-dasharray="2.4,1.1"/>
<line x1="652.10" y1="597.3" x2="652.10" y2="829.3" stroke="#bdbdbd" stroke-width="0.8" stroke-dasharray="2.4,1.1"/>
<line x1="450.5" y1="608.50" x2="684.4" y2="608.50" stroke="#bdbdbd" stroke-width="0.8" stroke-dasharray="2.4,1.1"/>
<line x1="450.5" y1="631.77" x2="684.4" y2="631.77" stroke="#bdbdbd" stroke-width="0.8" stroke-dasharray="2.4,1.1"/>
<line x1="450.5" y1="655.04" x2="684.4" y2="655.04" stroke="#bdbdbd" stroke-width="0.8" stroke-dasharray="2.4,1.1"/>
<line x1="450.5" y1="678.31" x2="684.4" y2="678.31" stroke="#bdbdbd" stroke-width="0.8" stroke-dasharray="2.4,1.1"/>
<line x1="450.5" y1="701.58" x2="684.4" y2="701.58" stroke="#bdbdbd" stroke-width="0.8" stroke-dasharray="2.4,1.1"/>
<line x1="450.5" y1="724.85" x2="684.4" y2="724.85" stroke="#bdbdbd" stroke-width="0.8" stroke-dasharray="2.4,1.1"/>
<line x1="450.5" y1="748.12" x2="684.4" y2="748.12" stroke="#bdbdbd" stroke-width="0.8" stroke-dasharray="2.4,1.1"/>
<line x1="450.5" y1="771.39" x2="684.4" y2="771.39" stroke="#bdbdbd" stroke-width="0.8" stroke-dasharray="2.4,1.1"/>
<line x1="450.5" y1="794.66" x2="684.4" y2="794.66" stroke="#bdbdbd" stroke-width="0.8" stroke-dasharray="2.4,1.1"/>
<line x1="450.5" y1="817.93" x2="684.4" y2="817.93" stroke="#bdbdbd" stroke-width="0.8" stroke-dasharray="2.4,1.1"/>
<rect x="550.40" y="599.19" width="123.40" height="18.62" fill="#4f4785" stroke="#111" stroke-width="1"/>
<rect x="550.40" y="622.46" width="108.82" height="18.62" fill="#4f4785" stroke="#111" stroke-width="1"/>
<rect x="550.40" y="645.73" width="73.22" height="18.62" fill="#4f4785" stroke="#111" stroke-width="1"/>
<rect x="550.40" y="669.00" width="36.95" height="18.62" fill="#4f4785" stroke="#111" stroke-width="1"/>
<rect x="550.40" y="692.27" width="21.36" height="18.62" fill="#4f4785" stroke="#111" stroke-width="1"/>
<rect x="483.28" y="715.54" width="67.12" height="18.62" fill="#e8735f" stroke="#111" stroke-width="1"/>
<rect x="481.58" y="738.81" width="68.82" height="18.62" fill="#e8735f" stroke="#111" stroke-width="1"/>
<rect x="480.90" y="762.08" width="69.50" height="18.62" fill="#e8735f" stroke="#111" stroke-width="1"/>
<rect x="462.60" y="785.35" width="87.80" height="18.62" fill="#e8735f" stroke="#111" stroke-width="1"/>
<rect x="460.56" y="808.62" width="89.84" height="18.62" fill="#e8735f" stroke="#111" stroke-width="1"/>
<rect x="450.50" y="597.30" width="233.90" height="232.00" fill="none" stroke="#1c1c1c" stroke-width="0.9"/>
<line x1="482.60" y1="829.30" x2="482.60" y2="832.90" stroke="#333" stroke-width="1"/>
<text transform="translate(469.63,844.60) scale(1.1317,1)" font-size="11.65" fill="#222222">−0.2</text>
<line x1="516.50" y1="829.30" x2="516.50" y2="832.90" stroke="#333" stroke-width="1"/>
<text transform="translate(503.53,844.60) scale(1.1340,1)" font-size="11.65" fill="#222222">−0.1</text>
<line x1="550.40" y1="829.30" x2="550.40" y2="832.90" stroke="#333" stroke-width="1"/>
<text transform="translate(541.80,844.60) scale(1.0594,1)" font-size="11.65" fill="#222222">0.0</text>
<line x1="584.30" y1="829.30" x2="584.30" y2="832.90" stroke="#333" stroke-width="1"/>
<text transform="translate(575.71,844.60) scale(1.0493,1)" font-size="11.65" fill="#222222">0.1</text>
<line x1="618.20" y1="829.30" x2="618.20" y2="832.90" stroke="#333" stroke-width="1"/>
<text transform="translate(609.61,844.60) scale(1.0458,1)" font-size="11.65" fill="#222222">0.2</text>
<line x1="652.10" y1="829.30" x2="652.10" y2="832.90" stroke="#333" stroke-width="1"/>
<text transform="translate(643.50,844.60) scale(1.0544,1)" font-size="11.65" fill="#222222">0.3</text>
<line x1="446.90" y1="608.50" x2="450.50" y2="608.50" stroke="#333" stroke-width="1"/>
<text transform="translate(405.79,612.94) scale(0.9577,1)" font-size="11.65" fill="#222222">MIP-1a</text>
<line x1="446.90" y1="631.77" x2="450.50" y2="631.77" stroke="#333" stroke-width="1"/>
<text transform="translate(422.48,636.21) scale(0.9929,1)" font-size="11.65" fill="#222222">IL-3</text>
<line x1="446.90" y1="655.04" x2="450.50" y2="655.04" stroke="#333" stroke-width="1"/>
<text transform="translate(414.09,659.48) scale(0.9504,1)" font-size="11.65" fill="#222222">IFN-a</text>
<line x1="446.90" y1="678.31" x2="450.50" y2="678.31" stroke="#333" stroke-width="1"/>
<text transform="translate(422.49,682.75) scale(0.9868,1)" font-size="11.65" fill="#222222">IL-5</text>
<line x1="446.90" y1="701.58" x2="450.50" y2="701.58" stroke="#333" stroke-width="1"/>
<text transform="translate(398.99,706.02) scale(0.9239,1)" font-size="11.65" fill="#222222">RANTES</text>
<line x1="446.90" y1="724.85" x2="450.50" y2="724.85" stroke="#333" stroke-width="1"/>
<text transform="translate(422.49,729.29) scale(0.9855,1)" font-size="11.65" fill="#222222">IL-2</text>
<line x1="446.90" y1="748.12" x2="450.50" y2="748.12" stroke="#333" stroke-width="1"/>
<text transform="translate(409.08,752.56) scale(0.9248,1)" font-size="11.65" fill="#222222">G-CSF</text>
<line x1="446.90" y1="771.39" x2="450.50" y2="771.39" stroke="#333" stroke-width="1"/>
<text transform="translate(394.19,775.83) scale(1.0509,1)" font-size="11.65" fill="#222222">IL-12p40</text>
<line x1="446.90" y1="794.66" x2="450.50" y2="794.66" stroke="#333" stroke-width="1"/>
<text transform="translate(422.47,799.10) scale(1.0019,1)" font-size="11.65" fill="#222222">IL-6</text>
<line x1="446.90" y1="817.93" x2="450.50" y2="817.93" stroke="#333" stroke-width="1"/>
<text transform="translate(415.28,822.37) scale(0.9937,1)" font-size="11.65" fill="#222222">IF-a2</text>
<text transform="translate(464.73,592.00) scale(1.0797,1)" font-size="12.70" fill="#222222">Weights on second latent variable</text>
<text transform="translate(525.78,859.70) scale(1.0146,1)" font-size="12.60" fill="#222222">Scores on LV2</text>
</svg>
</body></html>
